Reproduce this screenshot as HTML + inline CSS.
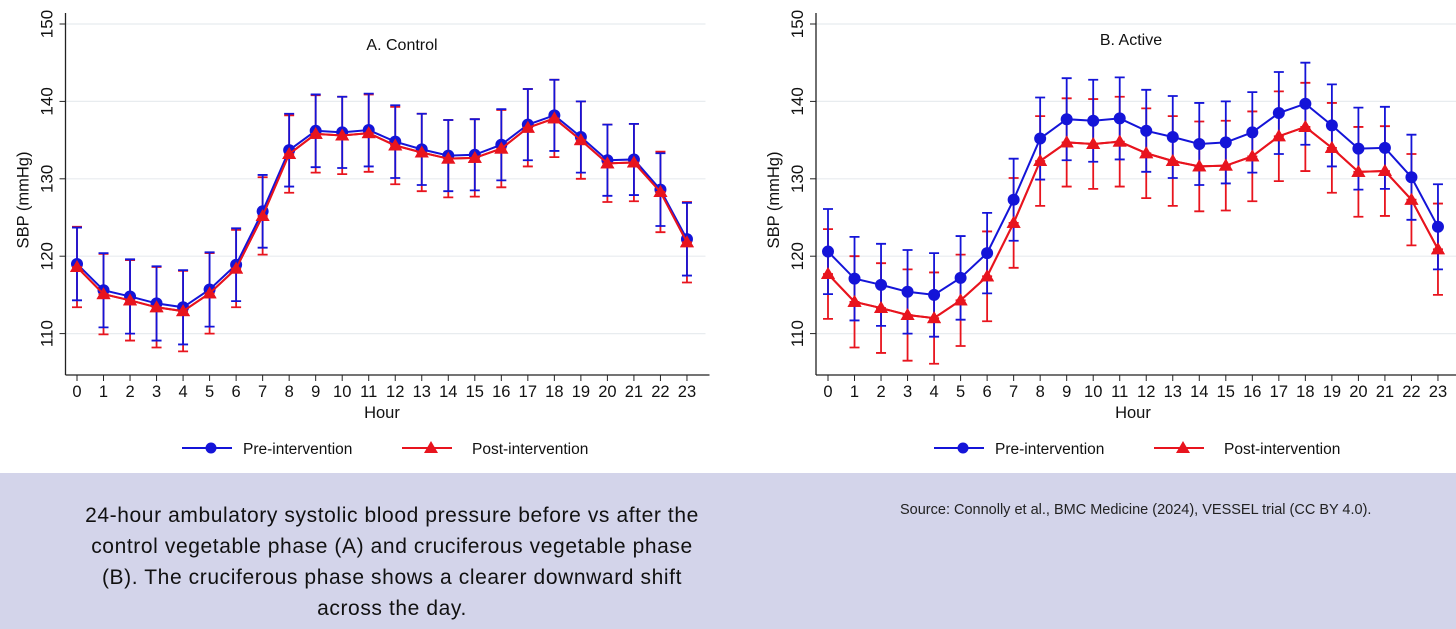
<!DOCTYPE html>
<html><head><meta charset="utf-8">
<style>
body{margin:0;width:1456px;height:629px;background:#fff;overflow:hidden;font-family:"Liberation Sans",sans-serif;position:relative}
#band{position:absolute;left:0;top:473px;width:1456px;height:156px;background:#d3d4ea}
#cap{position:absolute;left:42px;top:500px;width:700px;text-align:center;font-size:21px;letter-spacing:0.6px;line-height:31px;color:#111}
#src{position:absolute;left:900px;top:502px;font-size:14.5px;color:#222}
</style></head><body>
<svg id="chart" width="1456" height="473" style="position:absolute;left:0;top:0"></svg>
<div id="band"></div>
<div id="cap">24-hour ambulatory systolic blood pressure before vs after the<br>control vegetable phase (A) and cruciferous vegetable phase<br>(B). The cruciferous phase shows a clearer downward shift<br>across the day.</div>
<div id="src">Source: Connolly et al., BMC Medicine (2024), VESSEL trial (CC BY 4.0).</div>
<script>
const hours=[0,1,2,3,4,5,6,7,8,9,10,11,12,13,14,15,16,17,18,19,20,21,22,23];
const yTicks=[110,120,130,140,150];
const aPre=[119,115.6,114.8,113.9,113.4,115.7,118.9,125.8,133.7,136.2,136,136.3,134.8,133.8,133,133.1,134.4,137,138.2,135.4,132.4,132.5,128.6,122.2];
const aPost=[118.6,115.1,114.3,113.4,112.9,115.2,118.4,125.2,133.2,135.8,135.6,135.9,134.3,133.4,132.6,132.7,133.9,136.6,137.8,135,132,132.1,128.3,121.8];
const aPreErr=[4.7,4.8,4.8,4.8,4.8,4.8,4.7,4.7,4.7,4.7,4.6,4.7,4.7,4.6,4.6,4.6,4.6,4.6,4.6,4.6,4.6,4.6,4.7,4.7];
const aPostErr=[5.2,5.2,5.2,5.2,5.2,5.2,5,5,5,5,5,5,5,5,5,5,5,5,5,5,5,5,5.2,5.2];
const bPre=[120.6,117.1,116.3,115.4,115,117.2,120.4,127.3,135.2,137.7,137.5,137.8,136.2,135.4,134.5,134.7,136,138.5,139.7,136.9,133.9,134,130.2,123.8];
const bPost=[117.7,114.1,113.3,112.4,112,114.3,117.4,124.3,132.3,134.7,134.5,134.8,133.3,132.3,131.6,131.7,132.9,135.5,136.7,134,130.9,131,127.3,120.9];
const bPreErr=[5.5,5.4,5.3,5.4,5.4,5.4,5.2,5.3,5.3,5.3,5.3,5.3,5.3,5.3,5.3,5.3,5.2,5.3,5.3,5.3,5.3,5.3,5.5,5.5];
const bPostErr=[5.8,5.9,5.8,5.9,5.9,5.9,5.8,5.8,5.8,5.7,5.8,5.8,5.8,5.8,5.8,5.8,5.8,5.8,5.7,5.8,5.8,5.8,5.9,5.9];
const NS="http://www.w3.org/2000/svg";
const svg=document.getElementById('chart');
function mk(t,a,p){const e=document.createElementNS(NS,t);for(const k in a)e.setAttribute(k,a[k]);(p||svg).appendChild(e);return e;}
function panel(ox,x0,title,tx,ty,pre,post,preE,postE,lg){
  const g=mk('g',{});
  
  
  const X=h=>x0+h*26.52, Y=v=>24+(150-v)*7.74;
  yTicks.forEach(v=>{
    const l=mk('line',{x1:ox,x2:ox+640,y1:Y(v),y2:Y(v),stroke:'#e8ecef','stroke-width':1.2},g);
    
    mk('line',{x1:ox-6,x2:ox,y1:Y(v),y2:Y(v),stroke:'#222'},g);
    const t=mk('text',{x:0,y:0,transform:`translate(${ox-13},${Y(v)}) rotate(-90)`,'text-anchor':'middle','font-size':17,fill:'#111'},g);
    t.textContent=v;
  });
  mk('line',{x1:ox,x2:ox,y1:13,y2:375,stroke:'#222','stroke-width':1.3},g);
  mk('line',{x1:ox,x2:ox+644,y1:375,y2:375,stroke:'#222','stroke-width':1.3},g);
  hours.forEach(h=>{
    mk('line',{x1:X(h),x2:X(h),y1:375,y2:381,stroke:'#222'},g);
    const t=mk('text',{x:X(h),y:397,'text-anchor':'middle','font-size':16.5,fill:'#111'},g);
    t.textContent=h;
  });
  let t=mk('text',{x:X(11.5),y:418,'text-anchor':'middle','font-size':16.5,fill:'#111'},g);t.textContent='Hour';
  
  t=mk('text',{x:0,y:0,transform:`translate(${ox-37},200) rotate(-90)`,'text-anchor':'middle','font-size':16.5,fill:'#111'},g);t.textContent='SBP (mmHg)';
  
  t=mk('text',{x:tx,y:ty,'text-anchor':'middle','font-size':16,fill:'#111'},g);t.textContent=title;
  
  function series(vals,errs,col,tri,name){
    const sg=mk('g',{},g);
    hours.forEach((h,i)=>{
      const x=X(h),a=Y(vals[i]+errs[i]),b=Y(vals[i]-errs[i]);
      const e=mk('path',{d:`M${x},${a}V${b}M${x-5},${a}H${x+5}M${x-5},${b}H${x+5}`,stroke:col,'stroke-width':1.8,fill:'none'},sg);
      
    });
    const pl=mk('polyline',{points:hours.map((h,i)=>X(h)+','+Y(vals[i])).join(' '),stroke:col,'stroke-width':2,fill:'none'},sg);
    
    hours.forEach((h,i)=>{
      const x=X(h),y=Y(vals[i]);
      const m=tri?mk('path',{d:`M${x},${y-7}L${x+7},${y+5}L${x-7},${y+5}Z`,fill:col},sg):mk('circle',{cx:x,cy:y,r:6,fill:col},sg);
      
    });
  }
  series(post,postE,'#e8141e',true,'post-intervention-series');
  series(pre,preE,'#1414d8',false,'pre-intervention-series');
  series(post,postE.map(()=>0),'#e8141e',true,'post-intervention-markers');
  const L=mk('g',{},g);
  mk('line',{x1:lg,x2:lg+50,y1:448,y2:448,stroke:'#1414d8','stroke-width':2},L);
  mk('circle',{cx:lg+29,cy:448,r:5.5,fill:'#1414d8'},L);
  t=mk('text',{x:lg+61,y:454,'font-size':15.5,fill:'#111'},L);t.textContent='Pre-intervention';
  mk('line',{x1:lg+220,x2:lg+270,y1:448,y2:448,stroke:'#e8141e','stroke-width':2},L);
  mk('path',{d:`M${lg+249},${441}L${lg+256},${453}L${lg+242},${453}Z`,fill:'#e8141e'},L);
  t=mk('text',{x:lg+290,y:454,'font-size':15.5,fill:'#111'},L);t.textContent='Post-intervention';
}
panel(65.5,77,'A. Control',402,50,aPre,aPost,aPreErr,aPostErr,182);
panel(816,828,'B. Active',1131,45,bPre,bPost,bPreErr,bPostErr,934);
</script>
</body></html>
